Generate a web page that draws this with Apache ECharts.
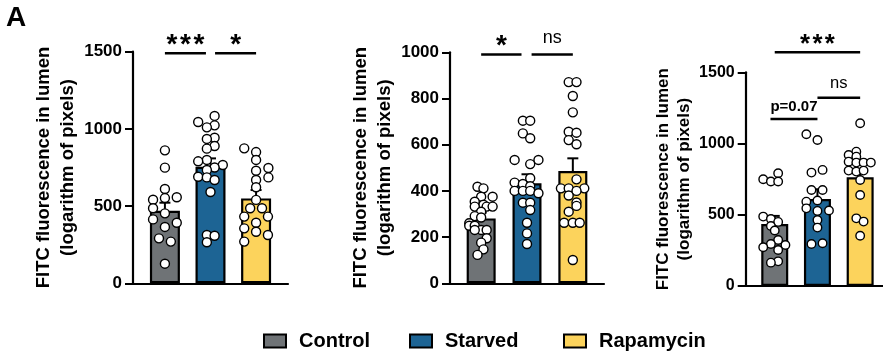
<!DOCTYPE html>
<html><head><meta charset="utf-8">
<script src="https://cdn.jsdelivr.net/npm/echarts@6/dist/echarts.min.js"></script>
<style>html,body{margin:0;padding:0;background:#fff}#c{width:883px;height:353px}</style>
</head><body><div id="c"></div>
<script>
const groups = ['Control', 'Starved', 'Rapamycin'];
const barColors = ['#6f7376', '#1d6494', '#fcd35c'];
const yTitle = 'FITC fluorescence in lumen\n(logarithm of pixels)';

// ---- Panel 1 ----
const p1Means = [470, 755, 550];
const p1Sem = [52, 54, 54];
const p1Control = [861, 749, 611, 552, 541, 557, 486, 453, 414, 392, 365, 291, 270, 127];
const p1ControlJit = [0, 0, 0, 0, -0.26, 0.26, -0.26, 0, -0.26, 0.26, 0, -0.13, 0.13, 0];
const p1Starved = [1084, 1045, 1023, 1010, 943, 935, 889, 872, 799, 790, 766, 750, 734, 690, 686, 669, 591, 313, 308, 266];
const p1StarvedJit = [0.09, -0.27, 0.09, -0.08, 0.09, -0.08, 0.09, -0.08, -0.08, -0.27, 0.27, 0.09, -0.08, -0.27, -0.08, 0.09, 0, -0.08, 0.09, -0.08];
const p1Rapa = [874, 850, 799, 747, 729, 686, 669, 622, 540, 486, 486, 432, 432, 392, 356, 334, 313, 270];
const p1RapaJit = [-0.26, 0, 0, 0.27, 0, 0.27, 0, 0, 0, -0.13, 0.13, -0.26, 0.26, 0, -0.26, 0, 0.26, -0.26];
const p1SigFrom = [0, 1.1];
const p1SigTo = [0.9, 2];
const p1SigY = [1490, 1490];
const p1SigText = ['***', '*'];

// ---- Panel 2 ----
const p2Means = [281, 433, 486];
const p2Sem = [25, 39, 55];
const p2Control = [418, 411, 375, 375, 353, 340, 332, 332, 332, 310, 291, 285, 260, 249, 249, 231, 231, 231, 195, 176, 147, 123];
const p2ControlJit = [-0.08, 0.05, 0, 0.25, -0.14, 0.05, -0.14, 0.12, 0.25, 0, -0.14, 0, -0.26, -0.26, -0.14, 0, 0.12, -0.14, 0.12, 0, 0.05, -0.08];
const p2Starved = [704, 704, 649, 628, 534, 534, 516, 455, 436, 430, 420, 400, 400, 400, 390, 349, 349, 317, 262, 216, 170];
const p2StarvedJit = [-0.09, 0.07, -0.09, 0.07, -0.27, 0.25, 0.07, 0.07, -0.27, -0.09, 0.07, -0.27, -0.09, 0.07, 0.25, -0.09, 0.07, 0.07, 0, 0, 0];
const p2Rapa = [871, 871, 811, 740, 656, 652, 620, 602, 450, 411, 411, 411, 400, 380, 350, 335, 310, 262, 262, 262, 101];
const p2RapaJit = [-0.09, 0.08, 0, 0, -0.09, 0.08, -0.09, 0.08, 0.08, -0.26, -0.09, 0.25, 0.08, -0.09, 0.08, 0.08, -0.09, -0.19, 0, 0.15, 0];
const p2SigFrom = [0, 1.1];
const p2SigTo = [0.88, 2];
const p2SigY = [991, 991];
const p2SigText = ['*', 'ns'];

// ---- Panel 3 ----
const p3Means = [435, 611, 763];
const p3Sem = [57, 68, 52];
const p3Control = [791, 749, 733, 733, 487, 470, 450, 421, 390, 323, 295, 288, 272, 253, 173, 164];
const p3ControlJit = [0.08, -0.27, -0.09, 0.08, -0.27, -0.09, 0.08, -0.09, 0, 0.08, -0.09, 0.25, -0.27, 0.08, 0.08, -0.09];
const p3Starved = [1065, 1025, 815, 796, 674, 674, 600, 592, 545, 530, 527, 463, 410, 300, 295];
const p3StarvedJit = [-0.26, 0, 0.12, -0.14, -0.14, 0.12, 0, -0.26, -0.26, 0.27, 0, 0, 0, 0.12, -0.14];
const p3Rapa = [1142, 943, 920, 908, 873, 866, 866, 866, 810, 803, 810, 744, 639, 475, 452, 353];
const p3RapaJit = [0, -0.09, -0.27, -0.09, -0.27, -0.09, 0.08, 0.25, -0.27, -0.09, 0.08, 0, 0, -0.09, 0.08, 0];
const p3SigFrom = [0, 1, -0.1];
const p3SigTo = [2, 2, 1];
const p3SigY = [1641, 1322, 1173];
const p3SigText = ['***', 'ns', 'p=0.07'];

// ---- layout (styles only) ----
const panels = [
  {left: 133, top: 51.7, width: 155, height: 231.6, xMin: -0.7, xMax: 2.7, yMax: 1500, yInt: 500, barW: 30, tick: 17, title: 18.5, lh: 24, gap: 53, sym: 9, cap: 5.5, s: 1,
   means: p1Means, sem: p1Sem, pts: [p1Control, p1Starved, p1Rapa], jit: [p1ControlJit, p1StarvedJit, p1RapaJit],
   sig: [p1SigFrom, p1SigTo, p1SigY, p1SigText]},
  {left: 450, top: 52.3, width: 154, height: 231, xMin: -0.68, xMax: 2.68, yMax: 1000, yInt: 200, barW: 29, tick: 17, title: 18.5, lh: 24, gap: 53, sym: 9, cap: 5.5, s: 1,
   means: p2Means, sem: p2Sem, pts: [p2Control, p2Starved, p2Rapa], jit: [p2ControlJit, p2StarvedJit, p2RapaJit],
   sig: [p2SigFrom, p2SigTo, p2SigY, p2SigText]},
  {left: 745.7, top: 72.3, width: 143.5, height: 213.7, xMin: -0.68, xMax: 2.68, yMax: 1500, yInt: 500, barW: 27, tick: 16, title: 17, lh: 21, gap: 50, sym: 8.5, cap: 5, s: 0.92,
   means: p3Means, sem: p3Sem, pts: [p3Control, p3Starved, p3Rapa], jit: [p3ControlJit, p3StarvedJit, p3RapaJit],
   sig: [p3SigFrom, p3SigTo, p3SigY, p3SigText]}
];

const FONT = 'Liberation Sans, Arial, sans-serif';
const grid = [], xAxis = [], yAxis = [], series = [];

function errRender(cap) {
  return function (params, api) {
    const x = api.value(0), m = api.value(1), s = api.value(2);
    const a = api.coord([x, m]), b = api.coord([x, m + s]);
    return {type: 'group', children: [
      {type: 'line', shape: {x1: a[0], y1: a[1], x2: b[0], y2: b[1]}, style: {stroke: '#000', lineWidth: 2}},
      {type: 'line', shape: {x1: b[0] - cap, y1: b[1], x2: b[0] + cap, y2: b[1]}, style: {stroke: '#000', lineWidth: 2}}
    ]};
  };
}

function sigRender(texts, sc) {
  return function (params, api) {
    const a = api.coord([api.value(0), api.value(2)]);
    const b = api.coord([api.value(1), api.value(2)]);
    const t = texts[params.dataIndex];
    const cx = (a[0] + b[0]) / 2;
    const children = [{type: 'line', shape: {x1: a[0], y1: a[1], x2: b[0], y2: b[1]}, style: {stroke: '#000', lineWidth: 2.5}}];
    if (/^\*+$/.test(t)) {
      const n = t.length, sp = 13.5 * sc;
      for (let i = 0; i < n; i++) {
        children.push({type: 'text', x: cx + (i - (n - 1) / 2) * sp, y: a[1] - 8 * sc,
          style: {text: '*', textAlign: 'center', textVerticalAlign: 'middle', font: 'bold ' + (28 * sc) + 'px ' + FONT, fill: '#000'}});
      }
    } else if (t === 'ns') {
      children.push({type: 'text', x: cx, y: a[1] - 16 * sc,
        style: {text: t, textAlign: 'center', textVerticalAlign: 'middle', font: (18 * sc) + 'px ' + FONT, fill: '#000'}});
    } else {
      children.push({type: 'text', x: cx, y: a[1] - 12,
        style: {text: t, textAlign: 'center', textVerticalAlign: 'middle', font: 'bold 15px ' + FONT, fill: '#000'}});
    }
    return {type: 'group', children: children};
  };
}

panels.forEach((p, k) => {
  grid.push({left: p.left, top: p.top, width: p.width, height: p.height, containLabel: false, outerBoundsMode: 'none'});
  xAxis.push({type: 'value', gridIndex: k, min: p.xMin, max: p.xMax,
    axisLine: {show: true, onZero: false, lineStyle: {color: '#000', width: 2.2}},
    axisTick: {show: false}, axisLabel: {show: false}, splitLine: {show: false}});
  yAxis.push({type: 'value', gridIndex: k, min: 0, max: p.yMax, interval: p.yInt,
    name: yTitle, nameLocation: 'middle', nameRotate: 90, nameGap: p.gap,
    nameTextStyle: {fontFamily: FONT, fontWeight: 'bold', fontSize: p.title, lineHeight: p.lh, color: '#000', align: 'center'},
    axisLine: {show: true, onZero: false, lineStyle: {color: '#000', width: 2.2}},
    axisTick: {show: true, length: 8, lineStyle: {color: '#000', width: 2}},
    axisLabel: {fontFamily: FONT, fontWeight: 'bold', fontSize: p.tick, color: '#000', margin: 11, formatter: v => String(v)},
    splitLine: {show: false}});
  groups.forEach((g, i) => {
    series.push({type: 'bar', name: g, xAxisIndex: k, yAxisIndex: k, barWidth: p.barW, barGap: '-100%',
      data: [[i, p.means[i]]],
      itemStyle: {color: barColors[i], borderColor: '#000', borderWidth: 2.2}, z: 2});
  });
  series.push({type: 'custom', xAxisIndex: k, yAxisIndex: k, z: 3,
    data: p.means.map((m, i) => [i, m, p.sem[i]]),
    encode: {x: 0, y: 1}, renderItem: errRender(p.cap)});
  groups.forEach((g, i) => {
    series.push({type: 'scatter', xAxisIndex: k, yAxisIndex: k, z: 4, symbol: 'circle', symbolSize: p.sym,
      data: p.pts[i].map((v, j) => [i + p.jit[i][j], v]),
      itemStyle: {color: '#fff', borderColor: '#000', borderWidth: 1.4, opacity: 1}});
  });
  series.push({type: 'custom', xAxisIndex: k, yAxisIndex: k, z: 5, clip: false,
    data: p.sig[0].map((f, i) => [f, p.sig[1][i], p.sig[2][i]]),
    encode: {x: [0, 1], y: 2}, renderItem: sigRender(p.sig[3], p.s)});
});

const legendBase = {orient: 'horizontal', top: 326, itemWidth: 22, itemHeight: 13, icon: 'rect',
  textStyle: {fontFamily: FONT, fontWeight: 'bold', fontSize: 20, color: '#000', padding: [0, 0, 0, 8]}};
const legendLefts = [258, 404, 558];

const chart = echarts.init(document.getElementById('c'), null, {renderer: 'canvas'});
chart.setOption({
  animation: false,
  backgroundColor: '#fff',
  grid: grid, xAxis: xAxis, yAxis: yAxis, series: series,
  legend: groups.map((g, i) => Object.assign({}, legendBase, {data: [g], left: legendLefts[i]})),
  graphic: [{type: 'text', left: 6, top: 4, style: {text: 'A', font: 'bold 28px ' + FONT, fill: '#000'}}]
});
</script>
</body></html>
